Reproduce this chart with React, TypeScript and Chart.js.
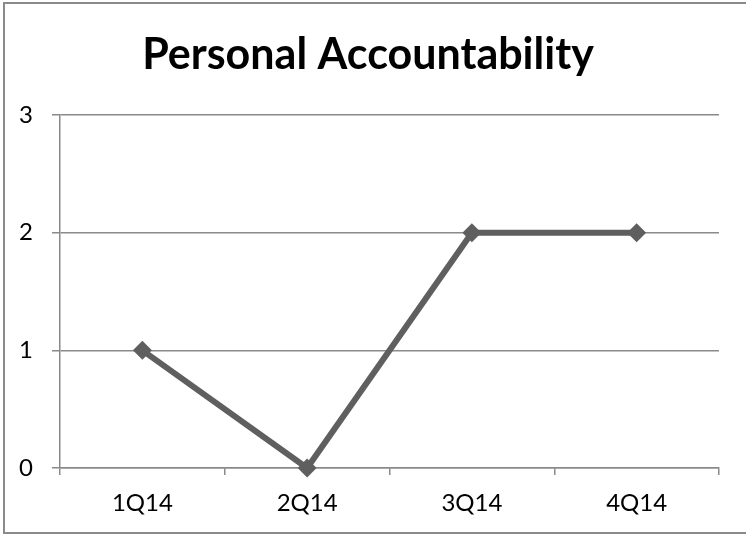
import React, { useEffect, useRef } from "react";
import { Chart, registerables } from "chart.js";

Chart.register(...registerables);

const TITLE = "Personal Accountability";
const categories = ["1Q14", "2Q14", "3Q14", "4Q14"];
const values = [1, 0, 2, 2];
const yTicks = [0, 1, 2, 3];

const FONT = "Lato, 'Open Sans', sans-serif";
const GRID = "#8a8a8a";
const LINE = "#5f5f5f";

const framePlugin = {
  id: "frame",
  beforeDraw(chart: any) {
    const ctx = chart.ctx;
    ctx.save();
    ctx.fillStyle = "#ffffff";
    ctx.fillRect(0, 0, chart.width, chart.height);
    ctx.strokeStyle = GRID;
    ctx.lineWidth = 2;
    ctx.strokeRect(4, 3, chart.width + 10, 530);
    ctx.fillStyle = "#000000";
    ctx.font = `bold 43px ${FONT}`;
    ctx.textAlign = "center";
    ctx.textBaseline = "alphabetic";
    ctx.fillText(TITLE, 368, 69);
    ctx.restore();
  },
};

export default function App() {
  const ref = useRef<HTMLCanvasElement | null>(null);
  useEffect(() => {
    document.body.style.margin = "0";
    const chart = new Chart(ref.current as HTMLCanvasElement, {
      type: "line",
      data: {
        labels: categories,
        datasets: [
          {
            data: values,
            borderColor: LINE,
            backgroundColor: LINE,
            borderWidth: 6,
            pointStyle: "rectRot",
            pointRadius: 9.5,
            pointBorderWidth: 0,
            pointBackgroundColor: LINE,
            clip: false as any,
          },
        ],
      },
      options: {
        animation: false,
        responsive: false,
        layout: { padding: { top: 115, left: 0, right: 27, bottom: 0 } },
        plugins: {
          legend: { display: false },
          title: { display: false },
          tooltip: { enabled: false },
        },
        scales: {
          x: {
            offset: true,
            grid: {
              offset: true,
              drawOnChartArea: false,
              drawTicks: true,
              tickLength: 7,
              color: GRID,
              lineWidth: 1.5,
            },
            border: { color: GRID, width: 1.5 },
            ticks: {
              color: "#000",
              font: { family: FONT, size: 24 },
              padding: 14,
              maxRotation: 0,
            },
            afterFit(scale: any) {
              scale.height = 67;
            },
          },
          y: {
            min: 0,
            max: 3,
            afterBuildTicks(scale: any) {
              scale.ticks = yTicks.map((v) => ({ value: v }));
            },
            grid: {
              color: GRID,
              lineWidth: 1.5,
              tickLength: 8,
            },
            border: { color: GRID, width: 1.5 },
            ticks: {
              color: "#000",
              font: { family: FONT, size: 24 },
              padding: 19,
            },
            afterFit(scale: any) {
              scale.width = 60;
            },
          },
        },
      },
      plugins: [framePlugin],
    });
    return () => chart.destroy();
  }, []);
  return (
    <canvas
      ref={ref}
      width={746}
      height={535}
      style={{ display: "block", width: 746, height: 535 }}
    />
  );
}
